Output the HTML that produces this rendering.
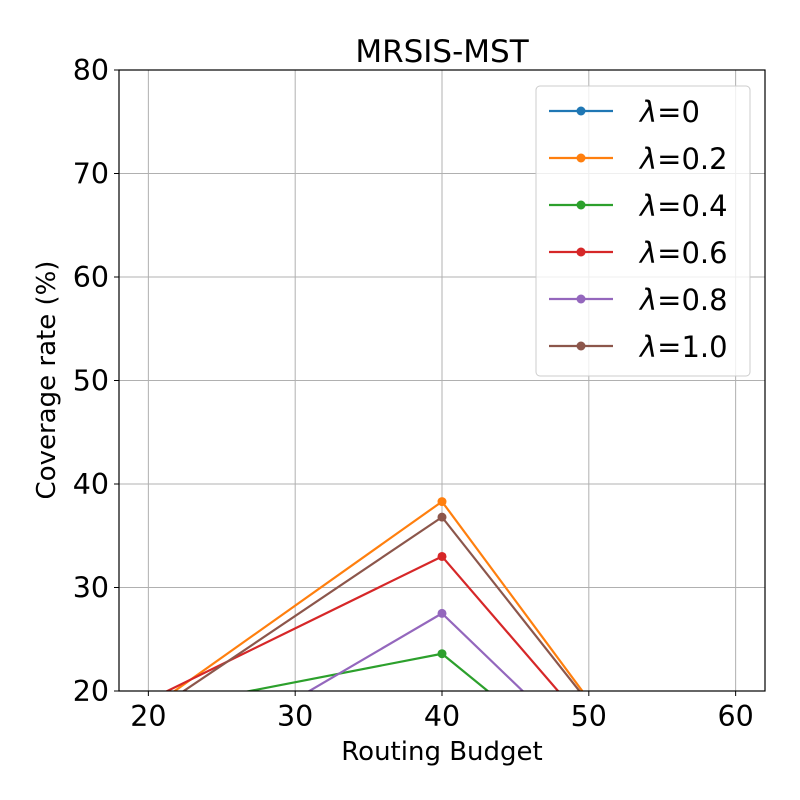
<!DOCTYPE html>
<html><head><meta charset="utf-8"><style>
html,body{margin:0;padding:0;background:#fff;overflow:hidden;width:800px;height:800px}
svg{display:block;font-family:"DejaVu Sans","Liberation Sans",sans-serif}
</style></head><body>
<svg id="chart" width="800" height="800" viewBox="0 0 800 800" xmlns="http://www.w3.org/2000/svg">
<defs><clipPath id="plotclip"><rect x="119" y="70" width="646" height="621"/></clipPath></defs>
<rect width="800" height="800" fill="#fff"/>
<g id="grid"></g>
<g id="series" clip-path="url(#plotclip)"></g>
<rect x="119" y="70" width="646" height="621" fill="none" stroke="#000" stroke-width="1.2"/>
<g id="ticks"></g>
<text x="442" y="62" text-anchor="middle" font-size="31">MRSIS-MST</text>
<text x="442" y="760" text-anchor="middle" font-size="26">Routing Budget</text>
<text transform="translate(55,380) rotate(-90)" text-anchor="middle" font-size="26">Coverage rate (%)</text>
<g id="legend"></g>
</svg>
<script>
const xValues=[20,40,60];
const seriesNames=["0","0.2","0.4","0.6","0.8","1.0"];
const s0=[10,15,5];
const s1=[18.2,38.3,0];
const s2=[18.1,23.6,0.5];
const s3=[19.1,33.0,0.1];
const s4=[10.9,27.5,0.2];
const s5=[17.7,36.8,0.9];
const xTicks=[20,30,40,50,60];
const yTicks=[20,30,40,50,60,70,80];
const seriesData=[s0,s1,s2,s3,s4,s5];
const colors=["#1f77b4","#ff7f0e","#2ca02c","#d62728","#9467bd","#8c564b"];
const NS="http://www.w3.org/2000/svg";
const X0=119,X1=765,Y0=691,Y1=70,xmin=18,xmax=62,ymin=20,ymax=80;
function sx(v){return X0+(v-xmin)/(xmax-xmin)*(X1-X0);}
function sy(v){return Y0-(v-ymin)/(ymax-ymin)*(Y0-Y1);}
function mk(t,a,p){const e=document.createElementNS(NS,t);for(const k in a)e.setAttribute(k,a[k]);p.appendChild(e);return e;}
const grid=document.getElementById('grid'),ticks=document.getElementById('ticks');
xTicks.forEach(v=>{
 const l=mk('line',{x1:sx(v),x2:sx(v),y1:Y1,y2:Y0,stroke:'#b0b0b0','stroke-width':1},grid);
 
 
 mk('line',{x1:sx(v),x2:sx(v),y1:Y0,y2:Y0+5,stroke:'#000'},ticks);
 const t=mk('text',{x:sx(v),y:Y0+35,'text-anchor':'middle','font-size':28.5},ticks);t.textContent=v;
 
 
});
yTicks.forEach(v=>{
 const l=mk('line',{x1:X0,x2:X1,y1:sy(v),y2:sy(v),stroke:'#b0b0b0','stroke-width':1},grid);
 
 
 mk('line',{x1:X0-5,x2:X0,y1:sy(v),y2:sy(v),stroke:'#000'},ticks);
 const t=mk('text',{x:X0-10,y:sy(v)+10,'text-anchor':'end','font-size':28.5},ticks);t.textContent=v;
 
 
});
const sg=document.getElementById('series');
const floor=ymin-0.3;
seriesData.forEach((d,i)=>{
 const g=mk('g',{},sg);
 
 
 for(let j=0;j<d.length-1;j++){
  let xa=xValues[j],ya=d[j],xb=xValues[j+1],yb=d[j+1];
  if(ya<floor&&yb<floor)continue;
  if(ya<floor){xa=xa+(xb-xa)*(floor-ya)/(yb-ya);ya=floor;}
  if(yb<floor){xb=xa+(xb-xa)*(floor-ya)/(yb-ya);yb=floor;}
  const seg=mk('line',{x1:sx(xa),y1:sy(ya),x2:sx(xb),y2:sy(yb),stroke:colors[i],'stroke-width':2.2},g);
  
  
 }
 d.forEach((v,j)=>{if(v<ymin||v>ymax)return;
  const c=mk('circle',{cx:sx(xValues[j]),cy:sy(v),r:4.5,fill:colors[i]},g);
  
  });
});
const lg=document.getElementById('legend');
mk('rect',{x:536,y:86,width:214,height:290,rx:4,fill:'#fff','fill-opacity':0.8,stroke:'#ccc'},lg);
seriesNames.forEach((n,i)=>{
 const y=111+i*47;
 const g=mk('g',{},lg);
 
 
 mk('line',{x1:549,x2:613,y1:y,y2:y,stroke:colors[i],'stroke-width':2.2},g);
 mk('circle',{cx:581,cy:y,r:4.5,fill:colors[i]},g);
 const t=mk('text',{x:640,y:y+11,'font-size':29},g);
 const a=mk('tspan',{'font-style':'italic'},t);a.textContent='λ';
 const b=mk('tspan',{},t);b.textContent='='+n;
});
</script>
</body></html>
